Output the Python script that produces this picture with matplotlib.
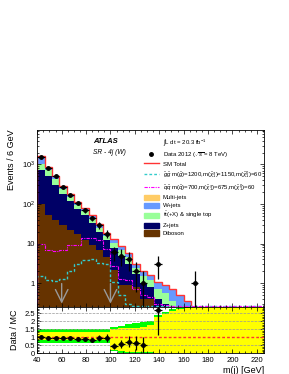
import numpy as np
import matplotlib
matplotlib.use("Agg")
import matplotlib.pyplot as plt
from matplotlib.lines import Line2D
from matplotlib.patches import Patch
from matplotlib.ticker import MultipleLocator, LogLocator, NullFormatter

plt.rcParams["font.family"] = ["Liberation Sans", "DejaVu Sans"]
plt.rcParams["mathtext.fontset"] = "custom"
plt.rcParams["mathtext.rm"] = "Liberation Sans"
plt.rcParams["mathtext.it"] = "Liberation Sans:italic"

# binning: 6 GeV bins from 40 to 226 GeV
edges = np.arange(40, 227, 6)
centers = edges[:-1] + 3

# observed events per bin
data = [1570, 820, 500, 270, 170, 104, 69, 44, 29, 18, 6, 5, 4, 2, 1, 0, 3, 0, 0, 0,
        0, 1, 0, 0, 0, 0, 0, 0, 0, 0, 0]

# background components
diboson = [100, 52, 40, 30, 22, 18, 12, 9, 7, 4.5, 2.2, 0.9, 0.9, 0.8, 0.4, 0.4, 0.1, 0.05,
           0, 0, 0, 0, 0, 0, 0, 0, 0, 0, 0, 0, 0]
zjets = [620, 450, 270, 150, 95, 58, 40, 25, 13, 8, 5.5, 3.9, 2.2, 0.9, 0.6, 0.4, 0.3, 0.25,
         0.15, 0.1, 0, 0, 0, 0, 0, 0, 0, 0, 0, 0, 0]
ttbar = [330, 210, 110, 58, 36, 20, 14, 9, 5.5, 3.5, 2.8, 2.0, 1.4, 0.7, 0.5, 0.4, 0.3, 0.25,
         0.2, 0.1, 0.05, 0, 0, 0, 0, 0, 0, 0, 0, 0, 0]
wjets = [530, 160, 90, 50, 29, 19, 13, 9, 5, 3, 2.3, 1.8, 1.2, 0.7, 0.5, 0.4, 0.4, 0.35,
         0.35, 0.3, 0.3, 0, 0, 0, 0, 0, 0, 0, 0, 0, 0]
multijet = [20, 8, 5, 2, 1, 0, 0, 0, 0, 0, 0, 0, 0, 0, 0, 0, 0, 0, 0, 0, 0, 0, 0, 0, 0, 0,
            0, 0, 0, 0, 0]

# signal benchmarks
sig_gg = [1.5, 1.2, 1.15, 1.3, 2.0, 3.0, 3.9, 4.0, 3.3, 3.0, 1.1, 0.5, 0.3, 0.27, 0.26, 0.26,
          0.26, 0.26, 0.26, 0.26, 0.26, 0.26, 0.26, 0.26, 0.26, 0.26, 0.26, 0.26, 0.26, 0.26, 0.26]
sig_qq = [10, 7, 6.5, 7, 9.5, 9.5, 14, 14, 12, 7.5, 2.8, 1.3, 1.2, 0.7, 0.5, 0.45, 0.3, 0.28,
          0.27, 0.27, 0.27, 0.27, 0.27, 0.27, 0.27, 0.27, 0.27, 0.27, 0.27, 0.27, 0.27]

# ratio uncertainty bands (yellow inner, green outer)
yellow_hi = [1.35] * 10 + [1.5, 1.55, 1.6, 1.6, 1.65, 1.8, 2.3, 2.45, 2.65, 2.75, 2.85] + [3] * 10
yellow_lo = [0.8] * 10 + [0.2, 0.1, 0.05, 0.05, 0.05, 0.05, 0, 0, 0, 0, 0] + [0] * 10
green_hi = [1.5] * 10 + [1.65, 1.7, 1.85, 1.9, 1.95, 2.0, 2.4, 2.6, 2.75, 2.85, 2.9] + [3] * 10
green_lo = [0.65] * 10 + [0.1, 0, 0, 0, 0, 0, 0, 0, 0, 0, 0] + [0] * 10

cut_positions = [60, 100]

colors = {
    "Diboson": "#663300",
    "Z+jets": "#000066",
    "ttbar": "#99ff99",
    "W+jets": "#6699ff",
    "Multi-jets": "#ffcc66",
}

fig = plt.figure(figsize=(2.89, 3.74), dpi=100)
ax = fig.add_axes([0.129, 0.179, 0.785, 0.474])
rax = fig.add_axes([0.129, 0.056, 0.785, 0.123], sharex=ax)

# stacked backgrounds
stack = [diboson, zjets, ttbar, wjets, multijet]
names = ["Diboson", "Z+jets", "ttbar", "W+jets", "Multi-jets"]
base = np.zeros(len(centers))
for vals, name in zip(stack, names):
    top = base + np.array(vals)
    ax.stairs(top, edges, baseline=base, fill=True, color=colors[name], lw=0)
    base = top
total = base
ax.stairs(total, edges, color="#ff3333", lw=1)

ax.stairs(sig_gg, edges, color="#33cccc", lw=1, ls=(0, (2, 1.5)))
ax.stairs(sig_qq, edges, color="#ff00ff", lw=0.8, ls=(0, (3, 1, 1, 1)))

data = np.array(data, dtype=float)
mask = data > 0
ax.errorbar(centers[mask], data[mask], yerr=np.sqrt(data[mask]), xerr=3, fmt="o",
            color="black", ms=2.5, lw=0.9, capsize=0)

for c in cut_positions:
    ax.annotate("", xy=(c, 0.26), xytext=(c, 1.15),
                arrowprops=dict(arrowstyle="->,head_length=0.9,head_width=0.45",
                                color="0.6", lw=1))

ax.set_yscale("log")
ax.set_ylim(0.25, 7500)
ax.set_xlim(40, 226)
ax.set_yticks([1, 10, 100, 1000], labels=["1", "10", "$10^{2}$", "$10^{3}$"])
ax.yaxis.set_minor_locator(LogLocator(subs=np.arange(2, 10)))
ax.yaxis.set_minor_formatter(NullFormatter())
ax.set_ylabel("Events / 6 GeV", fontsize=6.5, loc="top")
ax.tick_params(labelbottom=False)

ax.text(0.245, 0.955, "ATLAS", transform=ax.transAxes, fontsize=5.5,
        fontweight="bold", style="italic", va="top")
ax.text(0.245, 0.893, "SR - 4j (W)", transform=ax.transAxes, fontsize=4.8,
        style="italic", va="top")

handles = [
    Line2D([], [], color="none"),
    Line2D([], [], marker="o", color="black", ls="none", ms=2.5),
    Line2D([], [], color="#ff3333", lw=1),
    Line2D([], [], color="#33cccc", lw=1, ls=(0, (2, 1.5))),
    Line2D([], [], color="#ff00ff", lw=0.8, ls=(0, (3, 1, 1, 1))),
    Patch(color=colors["Multi-jets"]),
    Patch(color=colors["W+jets"]),
    Patch(color=colors["ttbar"]),
    Patch(color=colors["Z+jets"]),
    Patch(color=colors["Diboson"]),
]
labels = [
    r"$\int$L dt = 20.3 fb$^{-1}$",
    r"Data 2012 ($\sqrt{s}$ = 8 TeV)",
    "SM Total",
    r"$\tilde{g}\tilde{g}$ m($\tilde{g}$)=1200,m($\tilde{\chi}_1^{\pm}$)=1150,m($\tilde{\chi}_1^{0}$)=60",
    r"$\tilde{q}\tilde{q}$ m($\tilde{q}$)=700,m($\tilde{\chi}_1^{\pm}$)=675,m($\tilde{\chi}_1^{0}$)=60",
    "Multi-jets",
    "W+jets",
    r"t$\bar{\rm t}$(+X) & single top",
    "Z+jets",
    "Diboson",
]
ax.legend(handles, labels, loc="upper left", bbox_to_anchor=(0.46, 0.97),
          frameon=False, fontsize=4.3, labelspacing=0.35, handlelength=2.5,
          handleheight=1.0, handletextpad=0.6, borderaxespad=0)

# ratio panel
rax.fill_between(edges, np.append(green_lo, green_lo[-1]), np.append(green_hi, green_hi[-1]),
                 step="post", color="#00ff00", lw=0)
rax.fill_between(edges, np.append(yellow_lo, yellow_lo[-1]), np.append(yellow_hi, yellow_hi[-1]),
                 step="post", color="#ffff00", lw=0)
for yv in [0.5, 1.5, 2, 2.5]:
    rax.axhline(yv, color="0.6", ls="--", lw=0.5)
rax.axhline(1, color="#ff3333", ls=(0, (2, 1.5)), lw=1)

rmask = mask & (total > 0)
ratio = data[rmask] / total[rmask]
rerr = np.sqrt(data[rmask]) / total[rmask]
rax.errorbar(centers[rmask], ratio, yerr=rerr, xerr=3, fmt="o", color="black",
             ms=2.5, lw=0.9, capsize=0)

rax.set_ylim(0, 2.9)
rax.set_yticks([0, 0.5, 1, 1.5, 2, 2.5], labels=["0", "0.5", "1", "1.5", "2", "2.5"])
rax.yaxis.set_minor_locator(MultipleLocator(0.1))
rax.xaxis.set_major_locator(MultipleLocator(20))
rax.xaxis.set_minor_locator(MultipleLocator(5))
rax.set_ylabel("Data / MC", fontsize=6.5)
rax.set_xlabel("m(j) [GeV]", fontsize=6.5, loc="right", labelpad=1)

for a in (ax, rax):
    a.tick_params(which="both", direction="in", top=True, right=True, labelsize=5.5, pad=1.5)
    a.tick_params(which="major", length=3, width=0.5)
    a.tick_params(which="minor", length=1.5, width=0.5)
    for s in a.spines.values():
        s.set_linewidth(0.6)
rax.tick_params(axis="x", pad=3)

fig.savefig("out.png", dpi=100)
